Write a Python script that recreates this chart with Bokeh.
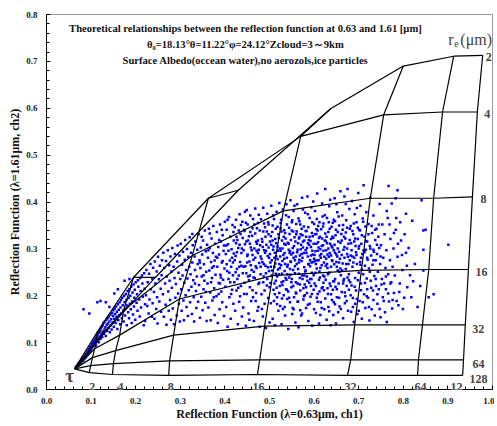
from bokeh.plotting import figure
from bokeh.models import Range1d, SingleIntervalTicker, NumeralTickFormatter, Label
from bokeh.embed import file_html
from bokeh.resources import INLINE

# ---------------- data ----------------
tau_labels = ["2", "4", "8", "16", "32", "64", "12"]
re_labels = ["2", "4", "8", "16", "32", "64", "128"]

origin_x = 0.063
origin_y = 0.044

# LUT vertices (R0.63, R1.61) for tau = 2,4,8,16,32,64,128
re2_x = [0.132, 0.244, 0.430, 0.637, 0.800, 0.913, 0.978]
re2_y = [0.123, 0.239, 0.425, 0.599, 0.690, 0.711, 0.713]
re4_x = [0.114, 0.195, 0.363, 0.570, 0.756, 0.888, 0.966]
re4_y = [0.123, 0.239, 0.408, 0.540, 0.586, 0.592, 0.592]
re8_x = [0.112, 0.173, 0.327, 0.531, 0.726, 0.868, 0.955]
re8_y = [0.104, 0.169, 0.286, 0.381, 0.408, 0.408, 0.411]
re16_x = [0.108, 0.164, 0.298, 0.507, 0.706, 0.857, 0.946]
re16_y = [0.087, 0.116, 0.193, 0.243, 0.254, 0.256, 0.256]
re32_x = [0.103, 0.155, 0.285, 0.489, 0.691, 0.843, 0.939]
re32_y = [0.068, 0.083, 0.116, 0.135, 0.138, 0.138, 0.138]
re64_x = [0.099, 0.150, 0.276, 0.478, 0.682, 0.834, 0.935]
re64_y = [0.051, 0.055, 0.061, 0.063, 0.063, 0.063, 0.063]
re128_x = [0.096, 0.148, 0.274, 0.473, 0.675, 0.832, 0.933]
re128_y = [0.036, 0.032, 0.030, 0.032, 0.030, 0.030, 0.030]

streak_pts = [
(0.066,0.048),(0.068,0.05),(0.07,0.051),(0.071,0.055),(0.073,0.054),(0.074,0.058),(0.076,0.057),(0.077,0.061),
(0.078,0.058),(0.079,0.064),(0.081,0.063),(0.082,0.067),(0.083,0.062),(0.084,0.069),(0.085,0.066),(0.086,0.072),
(0.087,0.068),(0.088,0.075),(0.089,0.071),(0.09,0.077),(0.091,0.073),(0.092,0.081),(0.093,0.076),(0.094,0.083),
(0.095,0.079),(0.096,0.087),(0.097,0.082),(0.098,0.09),(0.099,0.085),(0.1,0.093),(0.101,0.088),(0.102,0.097),
(0.103,0.091),(0.104,0.1),(0.105,0.094),(0.106,0.103),(0.107,0.097),(0.108,0.106),(0.109,0.1),(0.11,0.109),
(0.111,0.094),(0.112,0.112),(0.113,0.104),(0.114,0.116),(0.115,0.107),(0.116,0.12),(0.117,0.101),(0.118,0.122),
(0.119,0.113),(0.12,0.127),(0.121,0.108),(0.122,0.13),(0.123,0.118),(0.124,0.134),(0.125,0.112),(0.126,0.137),
(0.127,0.124),(0.128,0.142),(0.129,0.119),(0.13,0.128),(0.131,0.145),(0.132,0.133),(0.133,0.114),(0.134,0.149),
(0.135,0.138),(0.136,0.125),(0.137,0.152),(0.138,0.141),(0.139,0.131),(0.14,0.156),(0.141,0.145),(0.142,0.122),
(0.143,0.16),(0.144,0.137),(0.145,0.15),(0.146,0.128),(0.147,0.163),(0.148,0.143),(0.149,0.157),(0.15,0.169),
(0.151,0.134),(0.152,0.151),(0.153,0.173),(0.154,0.161),(0.155,0.142),(0.156,0.177),(0.157,0.155),(0.158,0.166),
(0.159,0.129),(0.16,0.182),(0.161,0.148),(0.162,0.17),(0.163,0.159),(0.164,0.186),(0.165,0.139),(0.166,0.175),
(0.167,0.191),(0.168,0.162),(0.169,0.152),(0.17,0.196),(0.171,0.18),(0.172,0.168),(0.173,0.145),(0.174,0.2),
(0.175,0.186),(0.176,0.158),(0.177,0.173),(0.178,0.204),(0.179,0.191),(0.18,0.137),(0.181,0.179),(0.182,0.21),
(0.183,0.165),(0.184,0.195),(0.185,0.152),(0.186,0.214),(0.187,0.183),(0.188,0.2),(0.189,0.171),(0.19,0.219),
(0.191,0.142),(0.192,0.188),(0.193,0.207),(0.194,0.16),(0.195,0.224),(0.196,0.177),(0.197,0.196),(0.198,0.213),
(0.199,0.149),(0.2,0.229),(0.202,0.185),(0.203,0.203),(0.204,0.168),(0.205,0.233),(0.206,0.219),(0.208,0.192),
(0.209,0.156),(0.21,0.238),(0.211,0.21),(0.212,0.175),(0.214,0.243),(0.215,0.226),(0.216,0.198),(0.218,0.137),
(0.219,0.248),(0.22,0.215),(0.221,0.182),
(0.083,0.171),(0.096,0.162),(0.114,0.186),(0.121,0.189),(0.133,0.186),(0.152,0.205),(0.16,0.214),(0.141,0.176),
(0.175,0.232),(0.186,0.236),
]

cloud_pts = [
(0.221,0.146),(0.223,0.201),(0.224,0.255),(0.226,0.178),(0.227,0.229),(0.229,0.162),(0.23,0.247),(0.231,0.192),
(0.233,0.268),(0.234,0.214),(0.236,0.155),(0.237,0.237),(0.238,0.184),(0.239,0.26),
(0.241,0.208),(0.242,0.151),(0.243,0.273),(0.244,0.226),(0.246,0.172),(0.247,0.252),(0.248,0.197),(0.249,0.141),
(0.25,0.283),(0.252,0.235),(0.253,0.188),(0.254,0.264),(0.256,0.215),(0.257,0.166),(0.258,0.244),(0.259,0.276),
(0.261,0.203),(0.262,0.292),(0.263,0.155),(0.264,0.259),(0.266,0.226),(0.267,0.181),(0.268,0.274),(0.269,0.138),
(0.27,0.241),(0.272,0.297),(0.273,0.209),(0.274,0.168),(0.275,0.265),(0.276,0.232),(0.277,0.191),(0.278,0.284),
(0.279,0.149),(0.28,0.252),
(0.281,0.217),(0.282,0.302),(0.283,0.173),(0.285,0.262),(0.286,0.139),(0.287,0.238),(0.288,0.289),(0.289,0.196),
(0.29,0.225),(0.292,0.158),(0.293,0.273),(0.294,0.307),(0.295,0.205),(0.296,0.249),(0.297,0.183),(0.298,0.286),
(0.299,0.145),(0.3,0.236),
(0.301,0.311),(0.302,0.214),(0.303,0.168),(0.304,0.266),(0.305,0.243),(0.306,0.294),(0.307,0.19),(0.308,0.148),
(0.309,0.228),(0.31,0.277),(0.311,0.319),(0.312,0.201),(0.313,0.255),(0.314,0.176),(0.315,0.3),(0.316,0.237),
(0.317,0.157),(0.318,0.283),(0.319,0.212),(0.32,0.262),
(0.321,0.325),(0.322,0.186),(0.323,0.246),(0.324,0.292),(0.325,0.219),(0.326,0.161),(0.327,0.271),(0.328,0.308),
(0.329,0.233),(0.33,0.197),(0.331,0.145),(0.332,0.284),(0.333,0.255),(0.334,0.316),(0.335,0.21),(0.336,0.174),
(0.337,0.241),(0.338,0.298),(0.339,0.268),(0.34,0.187),(0.333,0.226),(0.327,0.332),
(0.341,0.331),(0.342,0.223),(0.343,0.276),(0.344,0.153),(0.345,0.259),(0.346,0.303),(0.347,0.198),(0.348,0.241),
(0.349,0.288),(0.35,0.169),(0.351,0.318),(0.352,0.214),(0.353,0.267),(0.354,0.232),(0.355,0.339),(0.356,0.185),
(0.357,0.295),(0.358,0.251),(0.359,0.146),(0.36,0.309),(0.344,0.271),(0.352,0.244),(0.357,0.208),(0.348,0.326),
(0.361,0.226),(0.362,0.281),(0.363,0.175),(0.364,0.343),(0.365,0.254),(0.366,0.302),(0.367,0.207),(0.368,0.148),
(0.369,0.272),(0.37,0.322),(0.371,0.238),(0.372,0.19),(0.373,0.291),(0.374,0.349),(0.375,0.263),(0.376,0.216),
(0.377,0.159),(0.378,0.311),(0.379,0.245),(0.38,0.283),(0.366,0.333),(0.371,0.26),(0.375,0.197),(0.363,0.297),
(0.369,0.229),(0.377,0.275),
(0.381,0.199),(0.382,0.336),(0.383,0.262),(0.384,0.142),(0.385,0.304),(0.386,0.227),(0.387,0.288),(0.388,0.171),
(0.389,0.352),(0.39,0.245),(0.391,0.316),(0.392,0.209),(0.393,0.271),(0.394,0.186),(0.395,0.329),(0.396,0.234),
(0.397,0.296),(0.398,0.157),(0.399,0.258),(0.4,0.358),(0.383,0.281),(0.387,0.319),(0.391,0.239),(0.395,0.274),
(0.386,0.204),(0.398,0.307),(0.393,0.341),(0.389,0.226),
(0.401,0.219),(0.402,0.289),(0.403,0.176),(0.404,0.341),(0.405,0.253),(0.406,0.134),(0.407,0.31),(0.408,0.236),
(0.409,0.368),(0.41,0.197),(0.411,0.275),(0.412,0.326),(0.413,0.151),(0.414,0.262),(0.415,0.299),(0.416,0.213),
(0.417,0.351),(0.418,0.244),(0.419,0.183),(0.42,0.318),(0.404,0.267),(0.408,0.296),(0.412,0.229),(0.416,0.281),
(0.419,0.336),(0.403,0.307),(0.41,0.249),(0.414,0.204),(0.406,0.362),(0.418,0.271),
(0.421,0.229),(0.422,0.346),(0.423,0.168),(0.424,0.285),(0.425,0.362),(0.426,0.211),(0.427,0.257),(0.428,0.319),
(0.429,0.139),(0.43,0.302),(0.431,0.243),(0.432,0.187),(0.433,0.374),(0.434,0.272),(0.435,0.332),(0.436,0.221),
(0.437,0.291),(0.438,0.156),(0.439,0.358),(0.44,0.248),(0.422,0.276),(0.425,0.312),(0.428,0.236),(0.431,0.339),
(0.434,0.199),(0.437,0.264),(0.44,0.323),(0.424,0.25),(0.427,0.293),(0.43,0.217),(0.433,0.309),(0.436,0.351),
(0.441,0.175),(0.442,0.297),(0.443,0.341),(0.444,0.228),(0.445,0.379),(0.446,0.263),(0.447,0.136),(0.448,0.316),
(0.449,0.204),(0.45,0.285),(0.451,0.352),(0.452,0.241),(0.453,0.162),(0.454,0.327),(0.455,0.273),(0.456,0.218),
(0.457,0.371),(0.458,0.303),(0.459,0.189),(0.46,0.255),(0.442,0.262),(0.445,0.31),(0.448,0.248),(0.451,0.288),
(0.454,0.233),(0.457,0.336),(0.46,0.297),(0.443,0.204),(0.447,0.356),(0.452,0.318),(0.455,0.149),(0.458,0.265),
(0.449,0.383),(0.456,0.243),
(0.461,0.328),(0.462,0.212),(0.463,0.364),(0.464,0.277),(0.465,0.146),(0.466,0.301),(0.467,0.238),(0.468,0.386),
(0.469,0.189),(0.47,0.315),(0.471,0.259),(0.472,0.344),(0.473,0.168),(0.474,0.291),(0.475,0.225),(0.476,0.373),
(0.477,0.27),(0.478,0.134),(0.479,0.308),(0.48,0.246),(0.462,0.287),(0.465,0.251),(0.468,0.333),(0.471,0.296),
(0.474,0.355),(0.477,0.228),(0.48,0.284),(0.463,0.197),(0.466,0.352),(0.469,0.263),(0.472,0.311),(0.475,0.176),
(0.478,0.339),(0.464,0.239),(0.47,0.206),(0.476,0.298),
(0.481,0.363),(0.482,0.203),(0.483,0.321),(0.484,0.272),(0.485,0.156),(0.486,0.388),(0.487,0.241),(0.488,0.297),
(0.489,0.183),(0.49,0.346),(0.491,0.264),(0.492,0.131),(0.493,0.309),(0.494,0.222),(0.495,0.375),(0.496,0.285),
(0.497,0.195),(0.498,0.331),(0.499,0.253),(0.5,0.143),(0.482,0.279),(0.484,0.315),(0.486,0.229),(0.488,0.354),
(0.49,0.292),(0.492,0.248),(0.494,0.337),(0.496,0.261),(0.498,0.303),(0.5,0.218),(0.483,0.172),(0.487,0.268),
(0.491,0.326),(0.495,0.236),(0.499,0.281),(0.485,0.304),(0.489,0.211),(0.497,0.357),
(0.501,0.316),(0.502,0.271),(0.503,0.184),(0.504,0.392),(0.505,0.243),(0.506,0.336),(0.507,0.151),(0.508,0.298),
(0.509,0.213),(0.51,0.364),(0.511,0.262),(0.512,0.137),(0.513,0.321),(0.514,0.232),(0.515,0.284),(0.516,0.379),
(0.517,0.197),(0.518,0.347),(0.519,0.256),(0.52,0.168),(0.501,0.289),(0.503,0.327),(0.505,0.276),(0.507,0.35),
(0.509,0.305),(0.511,0.226),(0.513,0.269),(0.515,0.312),(0.517,0.241),(0.519,0.296),(0.502,0.227),(0.504,0.309),
(0.506,0.254),(0.508,0.371),(0.51,0.189),(0.512,0.292),(0.514,0.343),(0.516,0.217),(0.518,0.278),(0.52,0.331),
(0.521,0.246),(0.522,0.398),(0.523,0.301),(0.524,0.178),(0.525,0.355),(0.526,0.265),(0.527,0.139),(0.528,0.318),
(0.529,0.223),(0.53,0.384),(0.531,0.287),(0.532,0.201),(0.533,0.34),(0.534,0.253),(0.535,0.158),(0.536,0.309),
(0.537,0.372),(0.538,0.234),(0.539,0.281),(0.54,0.193),(0.521,0.323),(0.523,0.259),(0.525,0.296),(0.527,0.337),
(0.529,0.274),(0.531,0.231),(0.533,0.311),(0.535,0.268),(0.537,0.214),(0.539,0.352),(0.522,0.206),(0.524,0.284),
(0.526,0.362),(0.528,0.247),(0.53,0.172),(0.532,0.326),(0.534,0.291),(0.536,0.238),(0.538,0.395),(0.54,0.262),
(0.527,0.229),(0.535,0.334),
(0.541,0.313),(0.542,0.129),(0.543,0.368),(0.544,0.239),(0.545,0.291),(0.546,0.186),(0.547,0.404),(0.548,0.272),
(0.549,0.218),(0.55,0.339),(0.551,0.161),(0.552,0.302),(0.553,0.255),(0.554,0.381),(0.555,0.197),(0.556,0.325),
(0.557,0.276),(0.558,0.143),(0.559,0.229),(0.56,0.353),(0.541,0.266),(0.543,0.298),(0.545,0.332),(0.547,0.245),
(0.549,0.288),(0.551,0.361),(0.553,0.221),(0.555,0.306),(0.557,0.248),(0.559,0.284),(0.542,0.209),(0.544,0.345),
(0.546,0.257),(0.548,0.319),(0.55,0.236),(0.552,0.174),(0.554,0.281),(0.556,0.392),(0.558,0.316),(0.56,0.205),
(0.546,0.295),(0.553,0.337),
(0.561,0.268),(0.562,0.395),(0.563,0.187),(0.564,0.312),(0.565,0.133),(0.566,0.247),(0.567,0.359),(0.568,0.286),
(0.569,0.211),(0.57,0.331),(0.571,0.158),(0.572,0.274),(0.573,0.409),(0.574,0.236),(0.575,0.303),(0.576,0.192),
(0.577,0.348),(0.578,0.261),(0.579,0.224),(0.58,0.377),(0.562,0.293),(0.564,0.257),(0.566,0.322),(0.568,0.238),
(0.57,0.299),(0.572,0.343),(0.574,0.281),(0.576,0.216),(0.578,0.318),(0.58,0.252),(0.561,0.337),(0.563,0.226),
(0.565,0.365),(0.567,0.277),(0.569,0.169),(0.571,0.309),(0.573,0.243),(0.575,0.384),(0.577,0.291),(0.579,0.201),
(0.567,0.325),(0.574,0.329),
(0.581,0.297),(0.582,0.174),(0.583,0.338),(0.584,0.241),(0.585,0.412),(0.586,0.284),(0.587,0.146),(0.588,0.319),
(0.589,0.228),(0.59,0.366),(0.591,0.263),(0.592,0.198),(0.593,0.304),(0.594,0.389),(0.595,0.249),(0.596,0.136),
(0.597,0.327),(0.598,0.272),(0.599,0.213),(0.6,0.353),(0.581,0.254),(0.583,0.291),(0.585,0.232),(0.587,0.346),
(0.589,0.309),(0.591,0.276),(0.593,0.221),(0.595,0.334),(0.597,0.288),(0.599,0.244),(0.582,0.326),(0.584,0.206),
(0.586,0.374),(0.588,0.267),(0.59,0.183),(0.592,0.317),(0.594,0.236),(0.596,0.296),(0.598,0.401),(0.6,0.279),
(0.586,0.312),(0.594,0.271),
(0.601,0.226),(0.602,0.381),(0.603,0.295),(0.604,0.163),(0.605,0.332),(0.606,0.258),(0.607,0.418),(0.608,0.204),
(0.609,0.314),(0.61,0.276),(0.611,0.141),(0.612,0.357),(0.613,0.239),(0.614,0.299),(0.615,0.186),(0.616,0.342),
(0.617,0.265),(0.618,0.397),(0.619,0.218),(0.62,0.308),(0.601,0.287),(0.603,0.249),(0.605,0.311),(0.607,0.276),
(0.609,0.349),(0.611,0.234),(0.613,0.326),(0.615,0.281),(0.617,0.216),(0.619,0.369),(0.602,0.331),(0.604,0.268),
(0.606,0.196),(0.608,0.339),(0.61,0.303),(0.612,0.252),(0.614,0.159),(0.616,0.289),(0.618,0.322),(0.62,0.243),
(0.606,0.364),(0.613,0.286),
(0.621,0.354),(0.622,0.271),(0.623,0.171),(0.624,0.318),(0.625,0.428),(0.626,0.234),(0.627,0.297),(0.628,0.149),
(0.629,0.366),(0.63,0.259),(0.631,0.204),(0.632,0.336),(0.633,0.283),(0.634,0.391),(0.635,0.226),(0.636,0.311),
(0.637,0.137),(0.638,0.262),(0.639,0.347),(0.64,0.191),(0.621,0.296),(0.623,0.241),(0.625,0.333),(0.627,0.279),
(0.629,0.312),(0.631,0.246),(0.633,0.357),(0.635,0.291),(0.637,0.221),(0.639,0.306),(0.622,0.212),(0.624,0.372),
(0.626,0.264),(0.628,0.326),(0.63,0.288),(0.632,0.176),(0.634,0.249),(0.636,0.405),(0.638,0.321),(0.64,0.276),
(0.641,0.303),(0.642,0.213),(0.643,0.159),(0.644,0.362),(0.645,0.267),(0.646,0.408),(0.647,0.236),(0.648,0.329),
(0.649,0.141),(0.65,0.288),(0.651,0.197),(0.652,0.378),(0.653,0.254),(0.654,0.316),(0.655,0.226),(0.656,0.35),
(0.657,0.177),(0.658,0.279),(0.659,0.423),(0.66,0.244),(0.641,0.274),(0.643,0.324),(0.645,0.231),(0.647,0.292),
(0.649,0.341),(0.651,0.262),(0.653,0.301),(0.655,0.369),(0.657,0.251),(0.659,0.313),(0.642,0.356),(0.644,0.186),
(0.646,0.309),(0.648,0.219),(0.65,0.395),(0.652,0.284),(0.654,0.165),(0.656,0.271),
(0.661,0.332),(0.662,0.208),(0.663,0.371),(0.664,0.269),(0.665,0.152),(0.666,0.298),(0.667,0.236),(0.668,0.412),
(0.669,0.184),(0.67,0.322),(0.671,0.257),(0.672,0.361),(0.673,0.221),(0.674,0.289),(0.675,0.428),(0.676,0.168),
(0.677,0.311),(0.678,0.246),(0.679,0.385),(0.68,0.276),(0.662,0.287),(0.664,0.341),(0.666,0.232),(0.668,0.304),
(0.67,0.199),(0.672,0.268),(0.674,0.345),(0.676,0.283),(0.678,0.213),(0.68,0.319),(0.663,0.254),(0.667,0.326),
(0.671,0.396),(0.675,0.239),
(0.681,0.229),(0.682,0.349),(0.683,0.166),(0.684,0.297),(0.685,0.402),(0.686,0.262),(0.687,0.195),(0.688,0.331),
(0.689,0.144),(0.69,0.281),(0.691,0.374),(0.692,0.238),(0.693,0.306),(0.694,0.211),(0.695,0.357),(0.696,0.268),
(0.697,0.161),(0.698,0.321),(0.699,0.419),(0.7,0.249),(0.682,0.286),(0.684,0.222),(0.686,0.338),(0.688,0.271),
(0.69,0.316),(0.692,0.183),(0.694,0.293),(0.696,0.387),(0.698,0.233),(0.7,0.301),
(0.701,0.341),(0.702,0.189),(0.703,0.272),(0.704,0.392),(0.705,0.226),(0.706,0.311),(0.707,0.151),(0.708,0.289),
(0.709,0.365),(0.71,0.246),(0.711,0.436),(0.712,0.203),(0.713,0.326),(0.714,0.264),(0.715,0.174),(0.716,0.298),
(0.717,0.378),(0.718,0.237),(0.719,0.316),(0.72,0.277),(0.703,0.339),(0.707,0.256),(0.711,0.297),(0.715,0.348),
(0.719,0.214),(0.705,0.281),
(0.721,0.196),(0.722,0.353),(0.723,0.258),(0.724,0.147),(0.725,0.306),(0.726,0.409),(0.727,0.232),(0.728,0.286),
(0.729,0.171),(0.73,0.334),(0.731,0.266),(0.732,0.211),(0.733,0.371),(0.734,0.294),(0.735,0.242),(0.736,0.158),
(0.737,0.319),(0.738,0.276),(0.739,0.221),(0.74,0.343),(0.725,0.251),(0.733,0.298),
(0.741,0.289),(0.742,0.183),(0.743,0.251),(0.744,0.326),(0.745,0.214),(0.747,0.396),(0.748,0.268),(0.749,0.154),
(0.75,0.308),(0.752,0.236),(0.753,0.352),(0.754,0.197),(0.755,0.281),(0.757,0.226),(0.758,0.331),(0.759,0.165),
(0.76,0.259),(0.746,0.302),
(0.761,0.214),(0.762,0.297),(0.763,0.144),(0.765,0.366),(0.766,0.246),(0.767,0.434),(0.768,0.188),(0.77,0.276),
(0.771,0.321),(0.773,0.229),(0.775,0.173),(0.776,0.262),(0.778,0.301),(0.779,0.206),
(0.781,0.243),(0.783,0.341),(0.785,0.189),(0.787,0.283),(0.789,0.18),(0.792,0.226),(0.795,0.318),(0.798,0.255),
(0.802,0.196),(0.806,0.292),(0.809,0.218),(0.815,0.244),
(0.826,0.268),(0.832,0.176),(0.838,0.221),(0.85,0.341),(0.857,0.197),(0.868,0.203),(0.901,0.309),(0.845,0.254),
(0.783,0.408),(0.787,0.425),(0.841,0.404),(0.845,0.339),(0.845,0.298),(0.806,0.375),(0.82,0.36),
(0.763,0.381),(0.769,0.352),(0.774,0.397),(0.779,0.334),(0.784,0.366),(0.788,0.311),(0.793,0.357),(0.797,0.287),
(0.803,0.331),(0.808,0.264),(0.812,0.302),(0.818,0.197),(0.822,0.231),(0.791,0.208),(0.799,0.172),
]

core_pts = [
(0.503,0.262),(0.507,0.318),(0.511,0.281),(0.514,0.247),(0.518,0.305),(0.522,0.268),(0.525,0.344),(0.529,0.301),
(0.533,0.279),(0.536,0.322),(0.54,0.246),(0.543,0.311),(0.547,0.273),(0.55,0.357),(0.553,0.292),(0.557,0.263),
(0.56,0.331),(0.563,0.298),(0.566,0.271),(0.569,0.352),(0.572,0.289),(0.575,0.316),(0.578,0.243),(0.581,0.338),
(0.584,0.302),(0.587,0.268),(0.59,0.326),(0.593,0.286),(0.596,0.357),(0.599,0.311),(0.602,0.274),(0.605,0.342),
(0.608,0.296),(0.611,0.323),(0.614,0.259),(0.617,0.306),(0.62,0.348),(0.623,0.283),(0.626,0.317),(0.629,0.268),
(0.632,0.301),(0.635,0.343),(0.638,0.286),(0.641,0.326),(0.644,0.297),(0.647,0.359),(0.65,0.272),(0.653,0.336),
(0.656,0.294),(0.659,0.258),(0.662,0.318),(0.665,0.351),(0.668,0.281),(0.671,0.335),(0.674,0.301),(0.677,0.268),
(0.68,0.343),(0.683,0.312),(0.686,0.284),(0.689,0.354),(0.692,0.322),(0.695,0.287),(0.698,0.345),(0.701,0.306),
(0.704,0.266),(0.707,0.329),(0.71,0.358),(0.713,0.293),(0.716,0.317),(0.719,0.281),(0.722,0.331),(0.726,0.301),
(0.729,0.349),(0.733,0.276),(0.737,0.341),(0.741,0.309),(0.745,0.352),(0.749,0.284),
(0.512,0.203),(0.517,0.182),(0.523,0.221),(0.528,0.194),(0.534,0.176),(0.539,0.213),(0.544,0.196),(0.549,0.229),
(0.554,0.171),(0.559,0.207),(0.564,0.188),(0.568,0.224),(0.573,0.162),(0.577,0.199),(0.582,0.218),(0.586,0.181),
(0.591,0.236),(0.595,0.204),(0.6,0.171),(0.604,0.221),(0.608,0.187),(0.612,0.209),(0.617,0.174),(0.621,0.228),
(0.625,0.194),(0.63,0.216),(0.634,0.167),(0.638,0.203),(0.643,0.231),(0.647,0.182),(0.651,0.214),(0.656,0.196),
(0.66,0.172),(0.665,0.226),(0.669,0.207),(0.673,0.189),(0.678,0.233),(0.682,0.201),(0.687,0.176),(0.691,0.219),
(0.696,0.193),(0.7,0.168),(0.705,0.212),(0.709,0.186),(0.714,0.227),(0.718,0.199),(0.723,0.176),(0.728,0.217),
(0.733,0.191),(0.738,0.236),(0.742,0.203),(0.747,0.172),(0.751,0.224),(0.756,0.189),(0.761,0.241),(0.766,0.205),
(0.771,0.226),(0.776,0.191),
(0.42,0.29),(0.426,0.326),(0.432,0.262),(0.438,0.301),(0.444,0.338),(0.45,0.271),(0.456,0.311),(0.462,0.344),
(0.468,0.281),(0.474,0.318),(0.48,0.262),(0.486,0.337),(0.492,0.296),(0.498,0.352),
]

title_lines = [
    "Theoretical relationships between the reflection function at 0.63 and 1.61 [μm]",
    "θ₀=18.13°θ=11.22°φ=24.12°Zcloud=3～9km",
    "Surface Albedo(occean water),no aerozols,ice particles",
]
title_y = [0.770, 0.736, 0.701]

# ---------------- figure ----------------
SERIF = "Liberation Serif"
rows_x = [re2_x, re4_x, re8_x, re16_x, re32_x, re64_x, re128_x]
rows_y = [re2_y, re4_y, re8_y, re16_y, re32_y, re64_y, re128_y]

p = figure(width=494, height=423, x_range=Range1d(0, 1), y_range=Range1d(0, 0.8),
           output_backend="svg", toolbar_location=None,
           min_border_left=46, min_border_right=2, min_border_top=14, min_border_bottom=32)
p.grid.visible = False
p.outline_line_color = "#9a9a9a"
p.outline_line_width = 1

for ax in (p.xaxis[0], p.yaxis[0]):
    ax.ticker = SingleIntervalTicker(interval=0.1, num_minor_ticks=5)
    ax.formatter = NumeralTickFormatter(format="0.0")
    ax.major_tick_in = 4
    ax.major_tick_out = 0
    ax.minor_tick_in = 3
    ax.minor_tick_out = 0
    ax.axis_line_color = "black"
    ax.major_tick_line_color = "black"
    ax.minor_tick_line_color = "black"
    ax.major_label_text_font = SERIF
    ax.major_label_text_font_style = "bold"
    ax.major_label_text_font_size = "9px"
    ax.major_label_text_color = "#222222"
    ax.axis_label_text_font = SERIF
    ax.axis_label_text_font_style = "bold"
    ax.axis_label_text_font_size = "12px"
    ax.axis_label_text_color = "#111111"

p.xaxis.axis_label = "Reflection Function (λ=0.63μm, ch1)"
p.yaxis.axis_label = "Reflection Function (λ=1.61μm, ch2)"
p.xaxis.major_label_standoff = 8
p.xaxis.axis_label_standoff = 0
p.yaxis.major_label_standoff = 9
p.yaxis.axis_label_standoff = 1

# scatter
all_pts = streak_pts + cloud_pts + core_pts
sx = [q[0] for q in all_pts]
sy = [q[1] for q in all_pts]
p.scatter(sx, sy, marker="square", size=2.5, fill_color="#0000ff", line_color=None)

# LUT lines
xs_re = [[origin_x] + rx for rx in rows_x]
ys_re = [[origin_y] + ry for ry in rows_y]
p.multi_line(xs_re, ys_re, line_color="black", line_width=1.2)
xs_tau = [[rx[j] for rx in rows_x] for j in range(7)]
ys_tau = [[ry[j] for ry in rows_y] for j in range(7)]
p.multi_line(xs_tau, ys_tau, line_color="black", line_width=1.2)

# title lines
for t, ty in zip(title_lines, title_y):
    p.add_layout(Label(x=0.446, y=ty, text=t, text_align="center", text_baseline="middle",
                       text_font=SERIF, text_font_style="bold", text_font_size="10.6px",
                       text_color="#111111"))

# r_e(um) label
p.add_layout(Label(x=0.901, y=0.747, text="r", text_align="left", text_baseline="middle",
                   text_font=SERIF, text_font_size="16px"))
p.add_layout(Label(x=0.901, y=0.747, x_offset=6, y_offset=-4, text="e", text_align="left",
                   text_baseline="middle", text_font=SERIF, text_font_size="10px"))
p.add_layout(Label(x=0.901, y=0.747, x_offset=12, text="(μm)", text_align="left",
                   text_baseline="middle", text_font=SERIF, text_font_size="16px"))

# re labels on the right
re_dx = [6, 10, 11, 13, 13, 15, 16]
for i, t in enumerate(re_labels):
    p.add_layout(Label(x=rows_x[i][-1], y=rows_y[i][-1], x_offset=re_dx[i], y_offset=-2 if i < 4 else -4,
                       text=t, text_align="center", text_baseline="middle",
                       text_font=SERIF, text_font_style="bold", text_font_size="12px",
                       background_fill_color="white"))

# tau labels at the bottom
tau_dx = [3, 8, 2, 1, 3, 3, -6]
for j, t in enumerate(tau_labels):
    p.add_layout(Label(x=re128_x[j], y=0.0, x_offset=tau_dx[j], y_offset=3,
                       text=t, text_align="center", text_baseline="middle",
                       text_font=SERIF, text_font_style="bold", text_font_size="12px",
                       background_fill_color="white"))

p.add_layout(Label(x=origin_x, y=origin_y, x_offset=-5, y_offset=-7, text="τ",
                   text_align="center", text_baseline="middle",
                   text_font=SERIF, text_font_style="bold", text_font_size="19px"))

open("out.html", "w").write(file_html(p, INLINE, "chart"))
